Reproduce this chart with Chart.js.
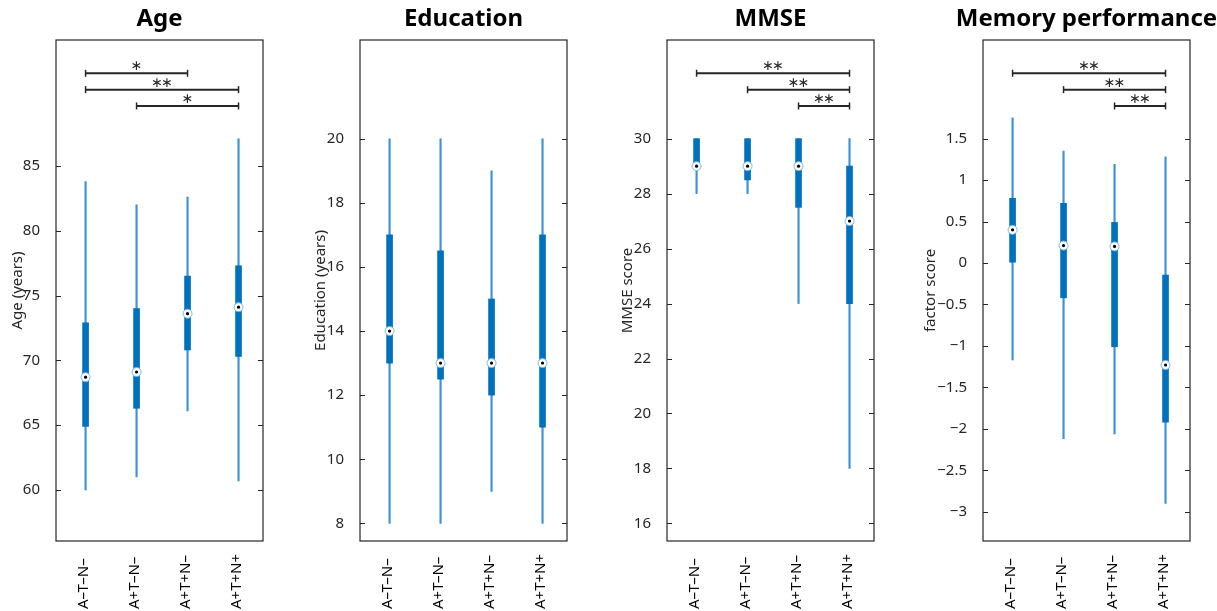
<!DOCTYPE html>
<html>
<head>
<meta charset="utf-8">
<script src="https://cdn.jsdelivr.net/npm/chart.js@4"></script>
<style>
  html, body { margin: 0; padding: 0; background: #fff; width: 1217px; height: 611px; overflow: hidden; }
  .panel { position: absolute; top: 0; }
</style>
</head>
<body>
<script>
// Biomarker groups (amyloid / tau / neurodegeneration)
const groups = ['A–T–N–', 'A+T–N–', 'A+T+N–', 'A+T+N+'];

// Age (years): whisker low, lower quartile, median, upper quartile, whisker high
const ageLow  = [60.0, 61.0, 66.1, 60.7];
const ageQ1   = [64.9, 66.3, 70.8, 70.3];
const ageMed  = [68.7, 69.1, 73.6, 74.1];
const ageQ3   = [72.9, 74.0, 76.5, 77.3];
const ageHigh = [83.8, 82.0, 82.6, 87.1];
const ageTicks = [60, 65, 70, 75, 80, 85];
const ageSigFrom  = [1, 1, 2];
const ageSigTo    = [3, 4, 4];
const ageSigLevel = [92.15, 90.89, 89.63];
const ageSigStars = ['*', '**', '*'];

// Education (years)
const eduLow  = [8, 8, 9, 8];
const eduQ1   = [13, 12.5, 12, 11];
const eduMed  = [14, 13, 13, 13];
const eduQ3   = [17, 16.5, 15, 17];
const eduHigh = [20, 20, 19, 20];
const eduTicks = [8, 10, 12, 14, 16, 18, 20];

// MMSE score
const mmseLow  = [28, 28, 24, 18];
const mmseQ1   = [29, 28.5, 27.5, 24];
const mmseMed  = [29, 29, 29, 27];
const mmseQ3   = [30, 30, 30, 29];
const mmseHigh = [30, 30, 30, 30];
const mmseTicks = [16, 18, 20, 22, 24, 26, 28, 30];
const mmseSigFrom  = [1, 2, 3];
const mmseSigTo    = [4, 4, 4];
const mmseSigLevel = [32.38, 31.78, 31.19];
const mmseSigStars = ['**', '**', '**'];

// Memory performance (factor score)
const memLow  = [-1.17, -2.12, -2.06, -2.90];
const memQ1   = [0.01, -0.42, -1.01, -1.92];
const memMed  = [0.40, 0.21, 0.20, -1.23];
const memQ3   = [0.78, 0.72, 0.49, -0.145];
const memHigh = [1.75, 1.35, 1.19, 1.28];
const memTicks = [-3, -2.5, -2, -1.5, -1, -0.5, 0, 0.5, 1, 1.5];
const memSigFrom  = [1, 2, 3];
const memSigTo    = [4, 4, 4];
const memSigLevel = [2.289, 2.091, 1.894];
const memSigStars = ['**', '**', '**'];

const BLUE = '#0072BD';
const INK = '#262626';
const FONT = '"Noto Sans", "DejaVu Sans", sans-serif';

function fmtTick(v) {
  const s = String(Math.round(v * 100) / 100);
  return s.replace('-', '\u2212');
}

// Axes box with inward tick marks on both vertical sides
const framePlugin = {
  id: 'frame',
  afterDraw(chart) {
    const { ctx, chartArea: a, scales } = chart;
    ctx.save();
    ctx.strokeStyle = INK;
    ctx.lineWidth = 1.2;
    ctx.strokeRect(a.left, a.top, a.right - a.left, a.bottom - a.top);
    ctx.lineWidth = 1;
    scales.y.ticks.forEach(t => {
      const y = Math.round(scales.y.getPixelForValue(t.value)) + 0.5;
      ctx.beginPath();
      ctx.moveTo(a.left, y); ctx.lineTo(a.left + 5, y);
      ctx.moveTo(a.right, y); ctx.lineTo(a.right - 5, y);
      ctx.stroke();
    });
    ctx.restore();
  }
};

// Rotated group labels under the axis
const groupLabelPlugin = {
  id: 'groupLabels',
  afterDraw(chart) {
    const { ctx, scales } = chart;
    ctx.save();
    ctx.fillStyle = '#000';
    ctx.font = '15px ' + FONT;
    ctx.textAlign = 'left';
    ctx.textBaseline = 'alphabetic';
    groups.forEach((g, i) => {
      const x = scales.x.getPixelForValue(i + 1);
      ctx.save();
      ctx.translate(x + 2, 609);
      ctx.rotate(-Math.PI / 2);
      ctx.fillText(g, 0, 0);
      ctx.restore();
    });
    ctx.restore();
  }
};

// Significance stars above the comparison brackets
const starPlugin = {
  id: 'stars',
  afterDatasetsDraw(chart, args, opts) {
    const sig = opts.sig;
    if (!sig) return;
    const { ctx, scales } = chart;
    ctx.save();
    ctx.fillStyle = INK;
    ctx.font = '14px "DejaVu Sans", sans-serif';
    ctx.textAlign = 'center';
    ctx.textBaseline = 'alphabetic';
    sig.from.forEach((a, i) => {
      const cx = scales.x.getPixelForValue((a + sig.to[i]) / 2);
      const y = scales.y.getPixelForValue(sig.level[i]) - 3;
      const n = sig.stars[i].length;
      for (let k = 0; k < n; k++) {
        ctx.fillText('\u2217', cx + (k - (n - 1) / 2) * 10, y);
      }
    });
    ctx.restore();
  }
};

function makePanel(p) {
  const plotW = 207;
  const div = document.createElement('div');
  div.className = 'panel';
  const w = plotW + 2 * p.axisW;
  div.style.left = (p.plotLeft - p.axisW) + 'px';
  div.style.width = w + 'px';
  div.style.height = '611px';
  const canvas = document.createElement('canvas');
  canvas.width = w; canvas.height = 611;
  div.appendChild(canvas);
  document.body.appendChild(div);

  const xs = groups.map((g, i) => i + 1);
  const datasets = [
    {
      type: 'bar', yAxisID: 'y', order: 4, grouped: false,
      data: xs.map((x, i) => ({ x, y: [p.low[i], p.high[i]] })),
      backgroundColor: '#3a93d6', barThickness: 1.5, borderWidth: 0
    },
    {
      type: 'bar', yAxisID: 'y', order: 3, grouped: false,
      data: xs.map((x, i) => ({ x, y: [p.q1[i], p.q3[i]] })),
      backgroundColor: BLUE, barThickness: 6, borderWidth: 0
    },
    {
      type: 'scatter', yAxisID: 'y', order: 2,
      data: xs.map((x, i) => ({ x, y: p.med[i] })),
      pointRadius: 4.5, pointBackgroundColor: '#fff', pointBorderColor: '#7ab8e8', pointBorderWidth: 1
    },
    {
      type: 'scatter', yAxisID: 'y', order: 1,
      data: xs.map((x, i) => ({ x, y: p.med[i] })),
      pointRadius: 1.6, pointBackgroundColor: '#000', pointBorderWidth: 0
    }
  ];
  if (p.sig) {
    p.sig.from.forEach((a, i) => {
      datasets.push({
        type: 'line', yAxisID: 'y', order: 0,
        data: [{ x: a, y: p.sig.level[i] }, { x: p.sig.to[i], y: p.sig.level[i] }],
        borderColor: INK, borderWidth: 2, fill: false,
        pointStyle: 'line', pointRotation: 90, pointRadius: 3.5,
        pointBorderWidth: 1.5, pointBorderColor: INK
      });
    });
  }

  new Chart(canvas.getContext('2d'), {
    type: 'bar',
    data: { datasets },
    plugins: [framePlugin, groupLabelPlugin, starPlugin],
    options: {
      responsive: false, animation: false, devicePixelRatio: 1,
      layout: { padding: 0 },
      plugins: {
        legend: { display: false },
        tooltip: { enabled: false },
        title: {
          display: true, text: p.title, color: '#000',
          font: { family: FONT, size: 24, weight: 'bold' },
          padding: { top: 5, bottom: 6.2 }
        },
        stars: { sig: p.sig }
      },
      scales: {
        x: {
          type: 'linear', min: 0.42, max: 4.48, offset: false,
          grid: { display: false }, border: { display: false },
          ticks: { display: false },
          afterFit(s) { s.height = 70; }
        },
        y: {
          type: 'linear', position: 'left', min: p.min, max: p.max,
          grid: { display: false }, border: { display: false },
          ticks: { color: INK, padding: 8, font: { family: FONT, size: 15 }, callback: v => fmtTick(v) },
          afterBuildTicks(s) { s.ticks = p.ticks.map(v => ({ value: v })); },
          afterFit(s) { s.width = p.axisW; },
          title: {
            display: true, text: p.yTitle, color: INK,
            font: { family: FONT, size: 15 }, padding: { top: p.titlePad, bottom: 0 }
          }
        },
        y2: {
          type: 'linear', position: 'right', min: p.min, max: p.max,
          grid: { display: false }, border: { display: false },
          ticks: { display: false },
          afterFit(s) { s.width = p.axisW; }
        }
      }
    }
  });
}

makePanel({
  title: 'Age', yTitle: 'Age (years)', plotLeft: 56, axisW: 56, titlePad: 9,
  min: 56.06, max: 94.72, ticks: ageTicks,
  low: ageLow, q1: ageQ1, med: ageMed, q3: ageQ3, high: ageHigh,
  sig: { from: ageSigFrom, to: ageSigTo, level: ageSigLevel, stars: ageSigStars }
});
makePanel({
  title: 'Education', yTitle: 'Education (years)', plotLeft: 360, axisW: 56, titlePad: 8,
  min: 7.45, max: 23.08, ticks: eduTicks,
  low: eduLow, q1: eduQ1, med: eduMed, q3: eduQ3, high: eduHigh
});
makePanel({
  title: 'MMSE', yTitle: 'MMSE score', plotLeft: 667, axisW: 56, titlePad: 8,
  min: 15.36, max: 33.59, ticks: mmseTicks,
  low: mmseLow, q1: mmseQ1, med: mmseMed, q3: mmseQ3, high: mmseHigh,
  sig: { from: mmseSigFrom, to: mmseSigTo, level: mmseSigLevel, stars: mmseSigStars }
});
makePanel({
  title: 'Memory performance', yTitle: 'factor score', plotLeft: 983, axisW: 62, titlePad: 1,
  min: -3.353, max: 2.69, ticks: memTicks,
  low: memLow, q1: memQ1, med: memMed, q3: memQ3, high: memHigh,
  sig: { from: memSigFrom, to: memSigTo, level: memSigLevel, stars: memSigStars }
});
</script>
</body>
</html>
